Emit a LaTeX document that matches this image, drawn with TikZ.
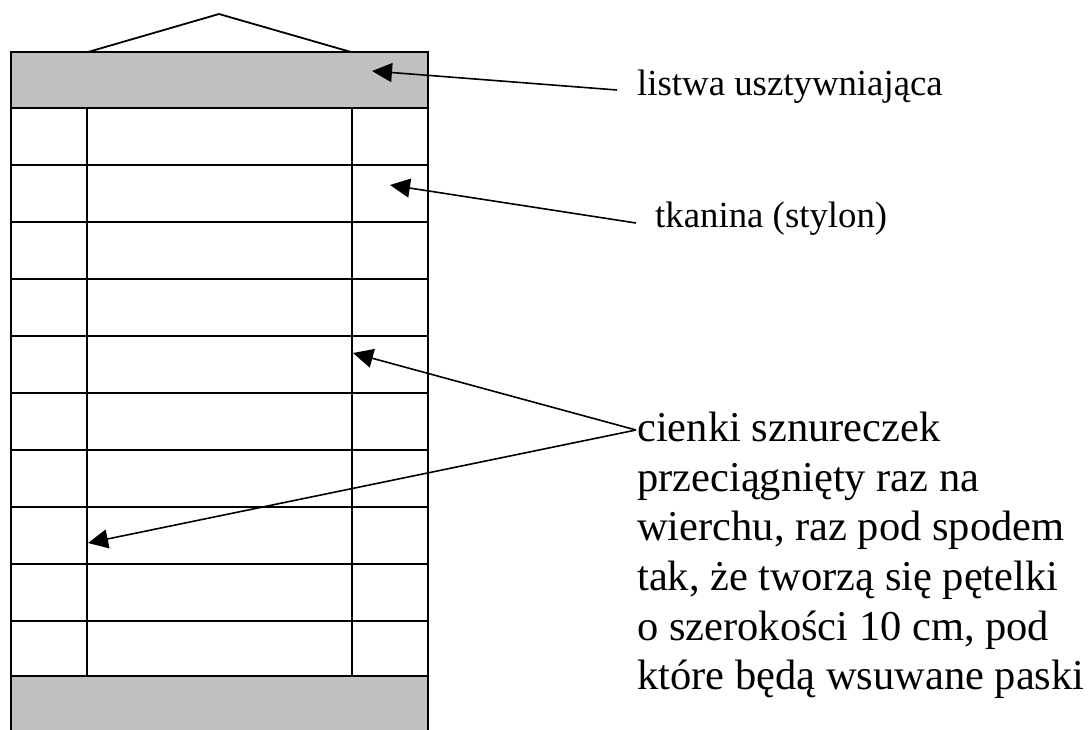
\documentclass[tikz,border=0pt]{standalone}
\usepackage{fontspec}
\setmainfont{Liberation Serif}
\usetikzlibrary{arrows.meta}
\definecolor{silverfill}{HTML}{C0C0C0}
\begin{document}
\begin{tikzpicture}[x=1pt,y=-1pt,
  edge/.style={draw=black, line width=1.8pt},
  pointer/.style={draw=black, line width=1.6pt, -{Triangle[length=20pt,width=19pt]}},
  lbl/.style={inner sep=0pt, font=\fontsize{36.8}{42}\selectfont, anchor=base west},
  biglbl/.style={inner sep=0pt, font=\fontsize{42.5}{49.6}\selectfont, align=left, anchor=north west}]
\useasboundingbox (0,0) rectangle (1090,729);
\fill[white] (0,0) rectangle (1090,729);
% top stiffening strip
\filldraw[edge, fill=silverfill] (11,52) rectangle (428,108);
% bottom strip (continues past the lower edge)
\fill[silverfill] (11,676) rectangle (428,731);
\draw[edge] (11,676) -- (428,676);
% side borders
\draw[edge] (11,108) -- (11,731);
\draw[edge] (428,108) -- (428,731);
% inner verticals
\draw[edge] (87,108) -- (87,676);
\draw[edge] (352,108) -- (352,676);
% horizontal lines
\foreach \yy in {165,222,279,336,393,450,507,564,621}
  \draw[edge] (11,\yy) -- (428,\yy);
% hanger
\draw[edge] (88,52) -- (219,14) -- (351,52);
% labels
\node[lbl] (l1) at (637,95) {listwa usztywniająca};
\node[lbl] (l2) at (655,227) {tkanina (stylon)};
\node[biglbl] (l3) at (637,412) {cienki sznureczek\\przeciągnięty raz na\\wierchu, raz pod spodem\\tak, że tworzą się pętelki\\o szerokości 10 cm, pod\\które będą wsuwane paski};
% arrow end points
\coordinate (s1) at (617,90);
\coordinate (t1) at (372,71);
\coordinate (s2) at (636,223);
\coordinate (t2) at (390,185);
\coordinate (j) at (636,430);
\coordinate (t3) at (353,353);
\coordinate (t4) at (88,543);
\draw[pointer] (s1) -- (t1);
\draw[pointer] (s2) -- (t2);
\draw[pointer] (j) -- (t3);
\draw[pointer] (j) -- (t4);
\end{tikzpicture}
\end{document}
